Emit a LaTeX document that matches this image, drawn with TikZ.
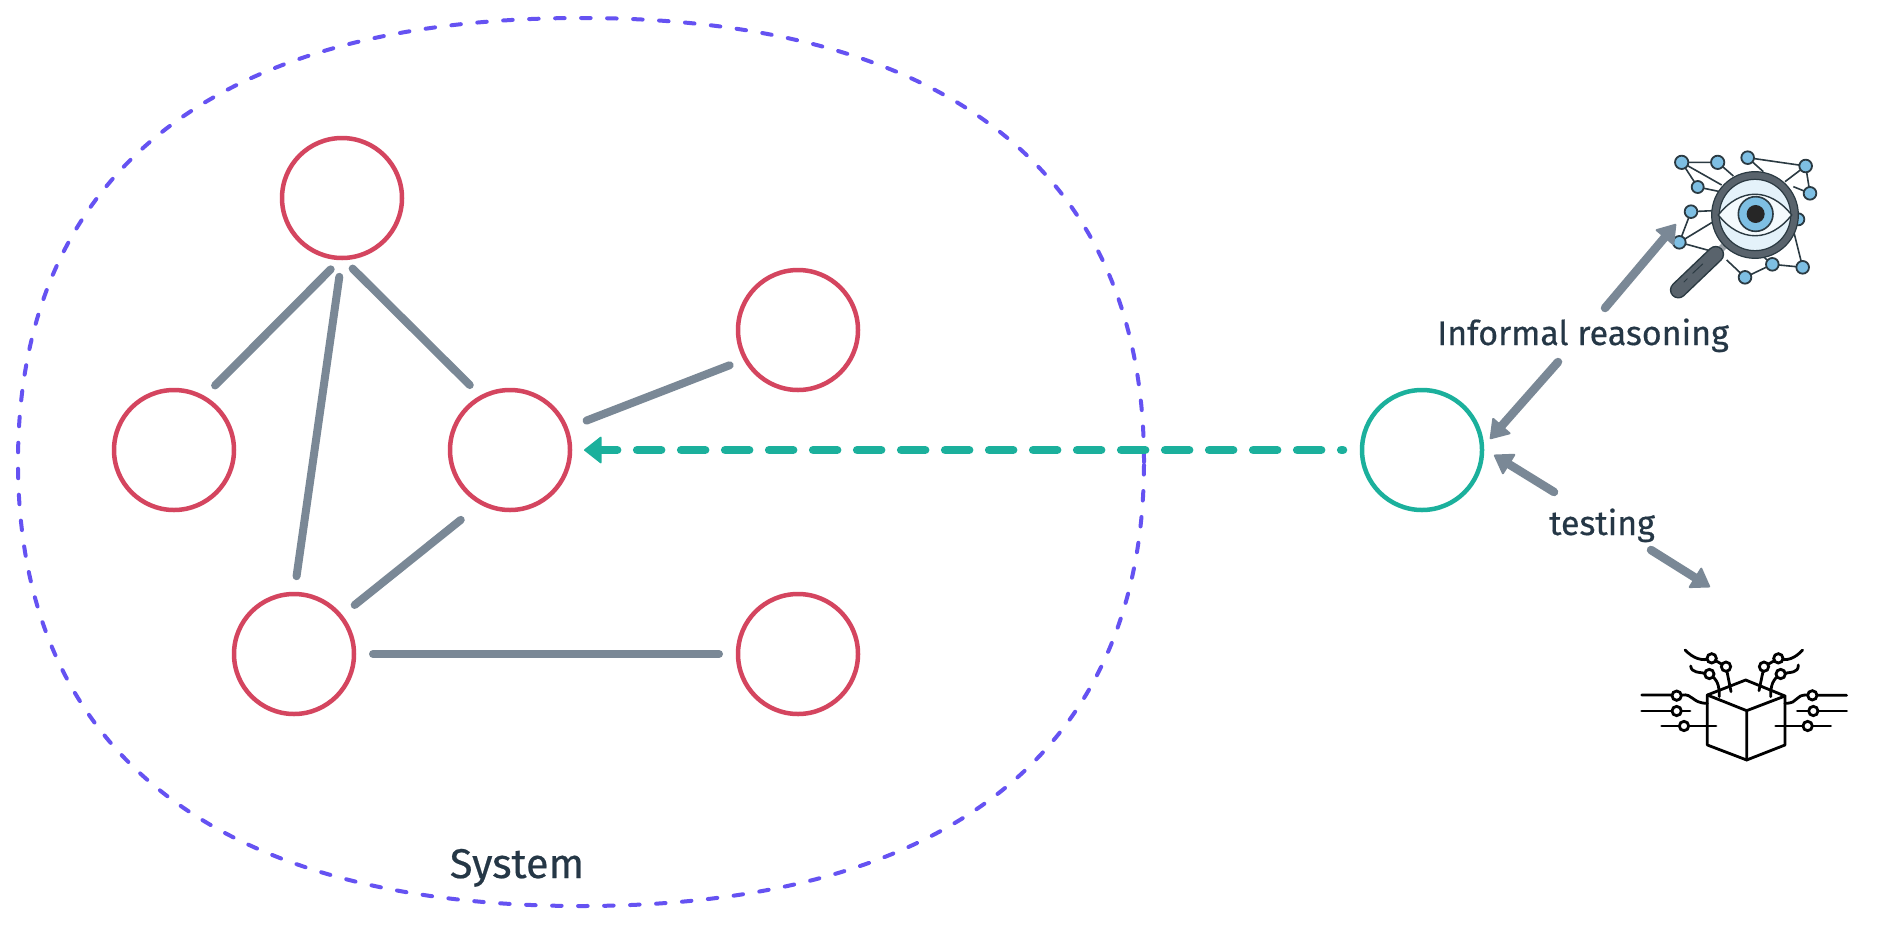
\documentclass[tikz,border=0pt]{standalone}
\usepackage{fontspec}
\setmainfont{Fira Sans}[FakeBold=0.5]
\usetikzlibrary{arrows.meta,shapes.geometric}
\definecolor{redc}{HTML}{D4455F}
\definecolor{tealc}{HTML}{1BB09C}
\definecolor{grayc}{HTML}{7A8896}
\definecolor{textc}{HTML}{253746}
\definecolor{purp}{HTML}{6552F2}
\definecolor{inkc}{HTML}{2B3A42}
\definecolor{ball}{HTML}{7EBFE3}
\definecolor{lensc}{HTML}{E4F2FA}
\definecolor{ringc}{HTML}{59636C}
\tikzset{
  x=1pt,y=-1pt,
  rednode/.style={circle,draw=redc,line width=4.5pt,minimum size=120pt,inner sep=0pt,outer sep=0pt},
  tealnode/.style={circle,draw=tealc,line width=4.5pt,minimum size=120pt,inner sep=0pt,outer sep=0pt},
  link/.style={draw=grayc,line width=8pt,line cap=round},
  gear/.style={draw=grayc,line width=8.5pt,line cap=round,-{Triangle[length=19pt,width=25pt,line width=2pt,round]}},
  lab/.style={text=textc,inner sep=0pt,outer sep=0pt,text height=26pt,text depth=8pt,font=\fontsize{34}{40}\selectfont},
  syslab/.style={text=textc,inner sep=0pt,outer sep=0pt,font=\fontsize{41.5}{46}\selectfont},
  net/.style={draw=inkc,line width=1.6pt},
  ballc/.style={draw=inkc,line width=1.8pt,fill=ball},
  wire/.style={draw=black,line width=2.8pt,line cap=round,line join=round},
  pin/.style={draw=black,line width=2.8pt,fill=white},
}
\begin{document}
\begin{tikzpicture}
\useasboundingbox (0,0) rectangle (1884,924);
\fill[white] (0,0) rectangle (1884,924);

\draw[draw=purp,line width=4pt,line cap=round,dash pattern=on 9.5pt off 16.5pt]
  (1144,462) .. controls (1144,173.4) and (947,18) .. (581,18)
  .. controls (215,18) and (18,173.4) .. (18,462)
  .. controls (18,750.6) and (215,906) .. (581,906)
  .. controls (947,906) and (1144,750.6) .. (1144,462) -- cycle;

\node[rednode] (top) at (342,198) {};
\node[rednode] (lft) at (174,450) {};
\node[rednode] (mid) at (510,450) {};
\node[rednode] (upr) at (798,330) {};
\node[rednode] (low) at (294,654) {};
\node[rednode] (lwr) at (798,654) {};
\node[tealnode] (ext) at (1422,450) {};

\draw[link,shorten <=16pt,shorten >=17pt] (top.270) -- (lft.61.4);
\draw[link,shorten <=19pt,shorten >=18pt] (top.270) -- (low.90);
\draw[link,shorten <=15pt,shorten >=17pt] (top.270) -- (mid.118.6);
\draw[link,shorten <=22pt,shorten >=17pt] (mid.21) -- (upr.209);
\draw[link,shorten <=27pt,shorten >=18pt] (mid.242) -- (low.39.5);
\draw[link,shorten <=19pt,shorten >=19pt] (low.0) -- (lwr.180);

\draw[draw=tealc,line width=8.5pt,line cap=round,dash pattern=on 24pt off 20pt,dash phase=8pt,
  {Triangle[length=18pt,width=28pt,line width=1.5pt,round]}-,shorten <=14pt,shorten >=19pt] (mid.east) -- (ext.west);

\node[syslab,anchor=base] (systxt) at (517,878) {System};
\node[lab] (inf) at (1583,336) {Informal reasoning};
\node[lab] (tst) at (1602,526) {testing};

% eye icon
\coordinate (eye) at (1676,224);
\begin{scope}[shift={(1650,140)},x=0.3333pt,y=-0.3333pt]
  \draw[net] (95,67) -- (203,67) (95,67) -- (143,141) (95,67) -- (215,135) (203,67) -- (250,108) (143,141) -- (210,155);
  \draw[net] (293,53) -- (467,78) (293,53) -- (340,95) (467,78) -- (480,160) (467,78) -- (405,125) (480,160) -- (430,140);
  \draw[net] (123,215) -- (190,212) (88,307) -- (123,215) (88,307) -- (190,245) (88,307) -- (190,335);
  \draw[net] (285,412) -- (367,373) (285,412) -- (230,360) (367,373) -- (458,382) (458,382) -- (430,270) (367,373) -- (340,350);
  \foreach \p/\q/\r in {95/67/20,203/67/20,143/141/18,293/53/19,467/78/19,480/160/19,123/215/19,88/307/19,285/412/19,367/373/19,458/382/19,445/238/18}
    \draw[ballc] (\p,\q) circle (\r);
  \draw[draw=ringc!60!white,line width=7pt] (230,310) -- (195,345);
  \draw[draw=inkc,line width=17pt,line cap=round] (197,343) -- (85,450);
  \draw[draw=ringc,line width=14pt,line cap=round] (197,343) -- (85,450);
  \draw[draw=inkc,line width=1pt,line cap=round] (158,372) -- (128,400) (112,416) -- (102,426);
  \draw[fill=lensc,draw=none] (315,225) circle (130);
  \draw[draw=ringc,line width=7.7pt] (315,225) circle (118.5);
  \draw[draw=inkc,line width=1.2pt] (315,225) circle (130) (315,225) circle (107);
  \draw[fill=white!60!lensc,draw=inkc,line width=1.4pt] (205,225) .. controls (270,142) and (360,142) .. (425,225) .. controls (360,308) and (270,308) .. (205,225) -- cycle;
  \draw[fill=ball,draw=inkc,line width=1.6pt] (317,222) circle (52);
  \fill[black!85] (317,222) circle (27);
\end{scope}

% cube icon
\coordinate (cube) at (1710,587);
\begin{scope}[shift={(1630,640)},x=0.3333pt,y=-0.3333pt]
  \draw[wire] (347,120) -- (465,168) -- (465,315) -- (350,360) -- (232,315) -- (232,165) -- cycle;
  \draw[wire] (232,165) -- (350,212) -- (465,168) (350,212) -- (350,360);
  \draw[wire] (35,165) -- (125,165) (155,165) .. controls (190,160) and (185,190) .. (232,190);
  \draw[wire] (35,213) -- (180,213) (95,258) -- (258,258);
  \draw[wire] (465,190) .. controls (510,190) and (490,163) .. (535,165) (547,166) -- (650,166);
  \draw[wire] (502,213) -- (650,213) (437,258) -- (602,258);
  \draw[wire] (165,30) .. controls (190,55) and (215,65) .. (245,55) -- (288,80) -- (303,155);
  \draw[wire] (182,78) .. controls (185,100) and (205,95) .. (238,102) .. controls (262,118) and (268,135) .. (268,170);
  \draw[wire] (518,30) .. controls (495,55) and (470,65) .. (445,55) -- (402,80) -- (387,152);
  \draw[wire] (505,75) .. controls (505,100) and (485,95) .. (452,102) .. controls (428,118) and (422,135) .. (422,170);
  \foreach \p/\q in {140/167,140/213,162/258,547/166,550/213,533/258,245/55,288/80,238/102,445/55,402/80,452/102}
    \draw[pin] (\p,\q) circle (14);
\end{scope}

\draw[gear] ([shift={(22pt,11pt)}]inf.north) -- (eye);
\draw[gear] ([shift={(-25pt,-9pt)}]inf.south) -- ([shift={(8pt,11pt)}]ext.east);
\draw[gear] ([shift={(-48pt,17pt)}]tst.north) -- ([shift={(12pt,-5pt)}]ext.east);
\draw[gear] ([shift={(49pt,-7pt)}]tst.south) -- (cube);
\end{tikzpicture}
\end{document}
